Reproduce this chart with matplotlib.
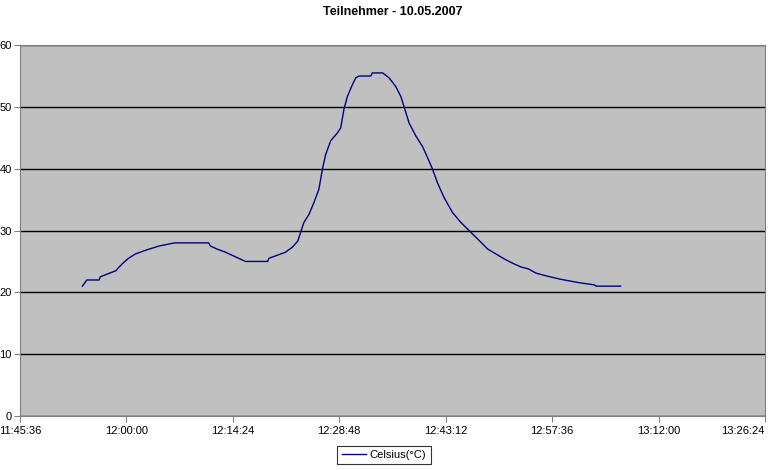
import matplotlib.pyplot as plt
from matplotlib.ticker import MultipleLocator

zeiten = [
    "11:54:03", "11:54:39", "11:56:19", "11:56:27", "11:57:30", "11:58:35",
    "11:58:56", "11:59:36", "12:00:17", "12:01:12", "12:02:06", "12:03:06",
    "12:04:27", "12:06:31", "12:11:08", "12:11:22", "12:12:16", "12:13:24",
    "12:14:18", "12:15:12", "12:16:07", "12:19:08", "12:19:16", "12:20:25",
    "12:21:32", "12:22:27", "12:23:12", "12:23:34", "12:24:01", "12:24:42",
    "12:25:22", "12:26:03", "12:26:31", "12:26:58", "12:27:38", "12:28:33",
    "12:29:00", "12:29:26", "12:29:54", "12:30:35", "12:31:02", "12:31:28",
    "12:33:04", "12:33:17", "12:34:41", "12:35:33", "12:36:27", "12:37:08",
    "12:37:35", "12:38:15", "12:39:10", "12:40:04", "12:40:45", "12:41:26",
    "12:42:06", "12:43:00", "12:44:08", "12:45:16", "12:46:37", "12:47:59",
    "12:48:53", "12:50:01", "12:51:08", "12:52:17", "12:53:24", "12:54:23",
    "12:55:26", "12:57:01", "12:58:49", "13:01:05", "13:03:20", "13:03:34",
    "13:06:52",
]
celsius = [
    21.0, 22.0, 22.0, 22.5, 23.0, 23.5,
    24.0, 24.8, 25.5, 26.2, 26.6, 27.0,
    27.5, 28.0, 28.0, 27.5, 27.0, 26.5,
    26.0, 25.5, 25.0, 25.0, 25.5, 26.0,
    26.5, 27.3, 28.3, 29.7, 31.3, 32.6,
    34.5, 36.7, 39.9, 42.3, 44.5, 45.8,
    46.6, 49.6, 51.7, 53.6, 54.7, 55.0,
    55.0, 55.5, 55.5, 54.7, 53.3, 51.7,
    50.0, 47.4, 45.3, 43.6, 41.8, 39.9,
    37.7, 35.3, 32.9, 31.3, 29.7, 28.1,
    27.0, 26.2, 25.4, 24.7, 24.1, 23.8,
    23.1, 22.6, 22.1, 21.6, 21.2, 21.0,
    21.0,
]

x_ticks = ["11:45:36", "12:00:00", "12:14:24", "12:28:48",
           "12:43:12", "12:57:36", "13:12:00", "13:26:24"]


def in_sekunden(t):
    h, m, s = t.split(":")
    return int(h) * 3600 + int(m) * 60 + int(s)


sekunden = [in_sekunden(t) for t in zeiten]
tick_pos = [in_sekunden(t) for t in x_ticks]

plt.rcParams["font.family"] = ["Liberation Sans", "DejaVu Sans"]

fig = plt.figure(figsize=(7.68, 4.70), dpi=100)
ax = fig.add_axes([0.026, 0.115, 0.97, 0.789])
ax.set_facecolor("#c0c0c0")

ax.plot(sekunden, celsius, color="#000080", linewidth=1.0, label="Celsius(°C)")

ax.set_xlim(tick_pos[0], tick_pos[-1])
ax.set_ylim(0, 60)
ax.set_xticks(tick_pos, x_ticks)
ax.yaxis.set_major_locator(MultipleLocator(10))

ax.grid(axis="y", color="black", linewidth=1.0)
ax.set_axisbelow(True)

for seite in ["top", "right", "left", "bottom"]:
    ax.spines[seite].set_color("#808080")

ax.tick_params(axis="both", labelsize=8, length=4, color="#808080", direction="out")
ax.tick_params(axis="y", pad=2)

# letzte Beschriftung nach links schieben, damit sie ins Bild passt
ax.get_xticklabels()[-1].set_ha("right")

plt.title("Teilnehmer - 10.05.2007", fontsize=9, fontweight="bold", pad=22)

leg = fig.legend(loc="lower center", bbox_to_anchor=(0.5, 0.0), fontsize=8,
                 frameon=True, fancybox=False, edgecolor="black",
                 handlelength=2.2, borderpad=0.4, handletextpad=0.3)
leg.get_frame().set_linewidth(0.8)

fig.savefig("out.png", dpi=100)
